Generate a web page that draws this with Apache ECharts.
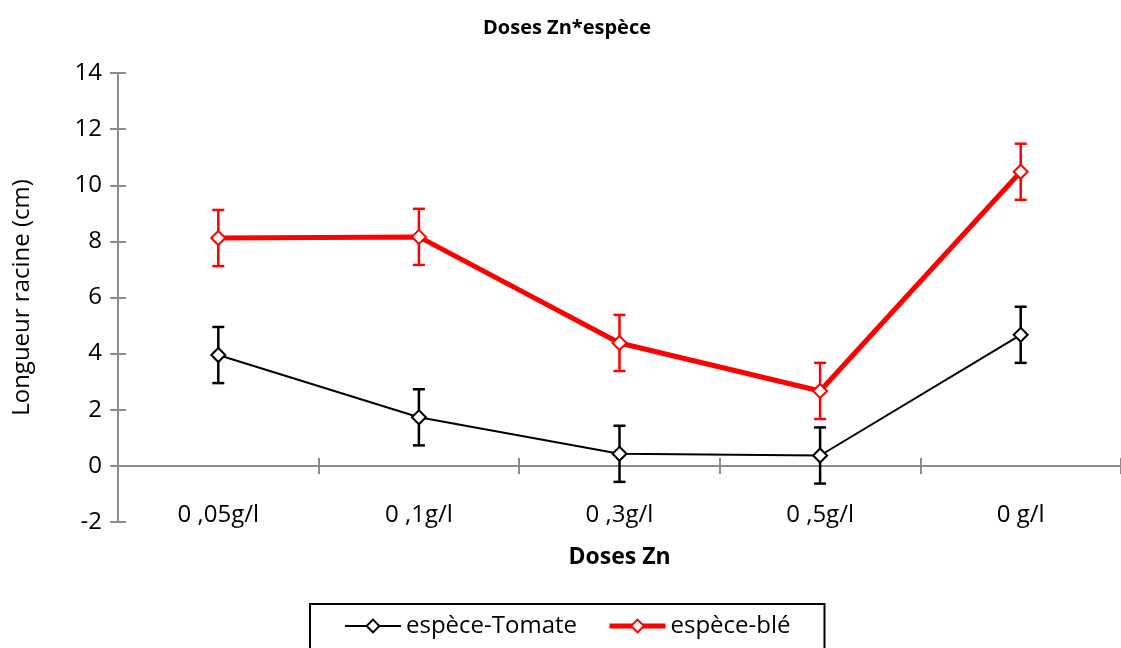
<!DOCTYPE html>
<html>
<head>
<meta charset="utf-8">
<script src="https://cdn.jsdelivr.net/npm/echarts@6/dist/echarts.min.js"></script>
<style>
  html, body { margin: 0; padding: 0; background: #fff; }
  #chart { width: 1121px; height: 648px; }
</style>
</head>
<body>
<div id="chart"></div>
<script>
var doses = ['0 ,05g/l', '0 ,1g/l', '0 ,3g/l', '0 ,5g/l', '0 g/l'];
var tomate = [3.95, 1.73, 0.43, 0.37, 4.67];
var tomateErr = [1, 1, 1, 1, 1];
var ble = [8.12, 8.16, 4.38, 2.67, 10.48];
var bleErr = [1, 1, 1, 1, 1];

var font = 'Open Sans';
var chart = echarts.init(document.getElementById('chart'));

// barres d'erreur
function errBars(vals, errs, color) {
  var d = vals.map(function (v, i) { return [i, v - errs[i], v + errs[i]]; });
  return {
    type: 'custom',
    xAxisIndex: 0,
    yAxisIndex: 0,
    z: 1,
    silent: true,
    data: d,
    renderItem: function (params, api) {
      var lo = api.coord([api.value(0), api.value(1)]);
      var hi = api.coord([api.value(0), api.value(2)]);
      var w = 6;
      var st = { stroke: color, lineWidth: 2.5 };
      return {
        type: 'group',
        children: [
          { type: 'line', shape: { x1: lo[0], y1: lo[1], x2: hi[0], y2: hi[1] }, style: st },
          { type: 'line', shape: { x1: lo[0] - w, y1: lo[1], x2: lo[0] + w, y2: lo[1] }, style: st },
          { type: 'line', shape: { x1: hi[0] - w, y1: hi[1], x2: hi[0] + w, y2: hi[1] }, style: st }
        ]
      };
    }
  };
}

var axisGrey = '#8c8c8c';

chart.setOption({
  animation: false,
  textStyle: { fontFamily: font },
  title: {
    text: 'Doses Zn*espèce',
    left: 478,
    top: 13,
    textStyle: { fontFamily: font, fontSize: 20, fontWeight: 'bold', color: '#000' }
  },
  legend: {
    bottom: -12,
    left: 310,
    padding: [10, 34, 22, 34],
    borderColor: '#000',
    borderWidth: 2,
    itemWidth: 56,
    itemHeight: 16,
    itemGap: 30,
    textStyle: { fontFamily: font, fontSize: 24, color: '#000' },
    data: [
      { name: 'espèce-Tomate', lineStyle: { width: 2 } },
      { name: 'espèce-blé', lineStyle: { width: 5 } }
    ]
  },
  grid: { left: 118, right: -7, top: 73, bottom: 126 },
  xAxis: [
    {
      type: 'category',
      data: doses,
      axisLine: { show: true, onZero: true, lineStyle: { color: axisGrey, width: 2 } },
      axisTick: { show: true, length: 8, lineStyle: { color: axisGrey, width: 2 } },
      axisLabel: { fontFamily: font, fontSize: 24, color: '#000', margin: -19 },
      name: 'Doses Zn',
      nameLocation: 'middle',
      nameGap: 24,
      nameTextStyle: { fontFamily: font, fontSize: 23, fontWeight: 'bold', color: '#000' }
    },
    {
      type: 'category',
      data: doses,
      position: 'bottom',
      axisLine: { show: false, onZero: true },
      axisTick: { show: true, inside: true, length: 8, lineStyle: { color: axisGrey, width: 2 } },
      axisLabel: { show: false }
    }
  ],
  yAxis: [
    {
      type: 'value',
      min: -2,
      max: 14,
      interval: 2,
      splitLine: { show: false },
      axisLine: { show: true, lineStyle: { color: axisGrey, width: 2 } },
      axisTick: { show: true, length: 8, lineStyle: { color: axisGrey, width: 2 } },
      axisLabel: { fontFamily: font, fontSize: 24, color: '#000', margin: 16 },
      name: 'Longueur racine (cm)',
      nameLocation: 'middle',
      nameRotate: 90,
      nameGap: 84,
      nameTextStyle: { fontFamily: font, fontSize: 24, color: '#000' }
    },
    {
      type: 'value',
      min: -2,
      max: 14,
      interval: 2,
      position: 'left',
      splitLine: { show: false },
      axisLine: { show: false },
      axisTick: { show: true, inside: true, length: 8, lineStyle: { color: axisGrey, width: 2 } },
      axisLabel: { show: false }
    }
  ],
  series: [
    errBars(tomate, tomateErr, '#000'),
    errBars(ble, bleErr, '#ff0000'),
    {
      name: 'espèce-Tomate',
      type: 'line',
      data: tomate,
      z: 3,
      symbol: 'diamond',
      symbolSize: 14,
      lineStyle: { color: '#000', width: 2 },
      itemStyle: { color: '#fff', borderColor: '#000', borderWidth: 2 }
    },
    {
      name: 'espèce-blé',
      type: 'line',
      data: ble,
      z: 3,
      symbol: 'diamond',
      symbolSize: 14,
      lineStyle: { color: '#ff0000', width: 5 },
      itemStyle: { color: '#fff', borderColor: '#ff0000', borderWidth: 2 }
    }
  ]
});
</script>
</body>
</html>
